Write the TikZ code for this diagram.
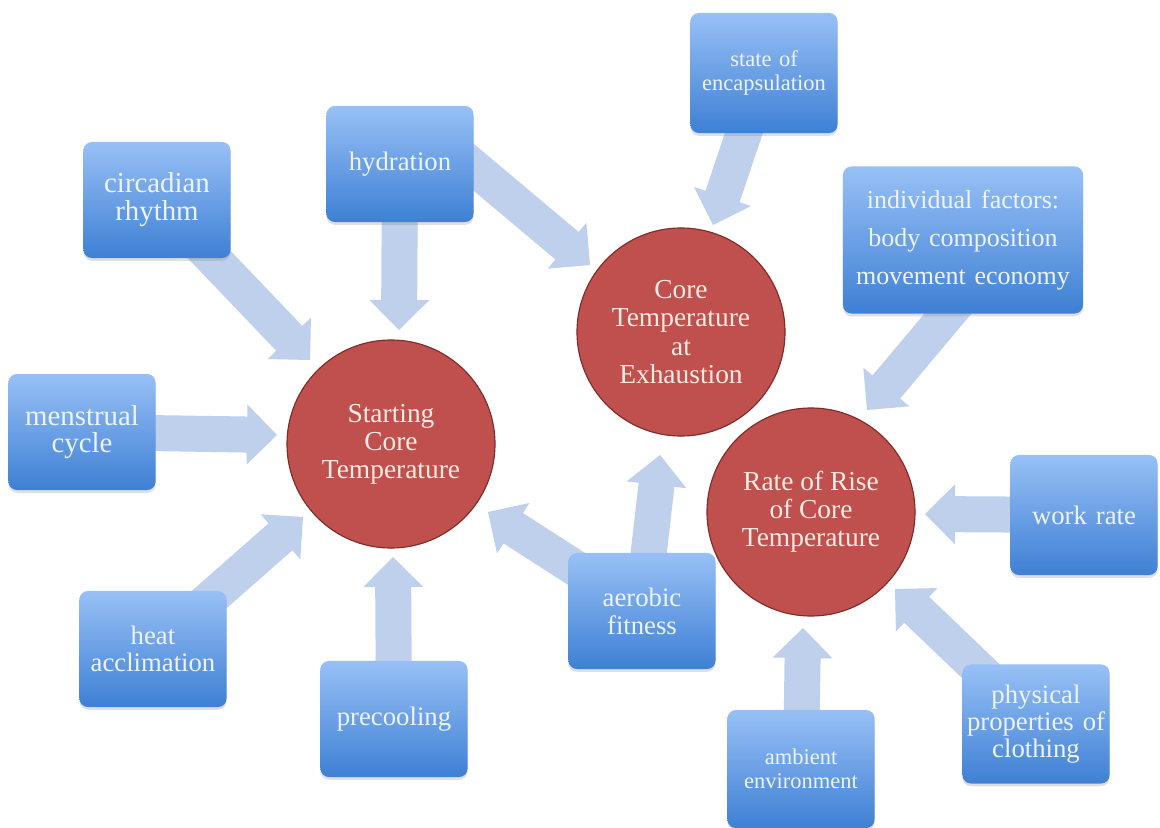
\documentclass[tikz,border=0pt]{standalone}
\usepackage{fontspec}
\setmainfont{Liberation Serif}
\usetikzlibrary{shapes,calc,shadows,backgrounds}
\definecolor{factortop}{RGB}{152,192,246}
\definecolor{factorbottom}{RGB}{62,128,212}
\definecolor{coretemp}{RGB}{192,80,77}
\definecolor{coreedge}{RGB}{125,42,40}
\definecolor{corefont}{RGB}{252,236,228}
\definecolor{factorfont}{RGB}{238,244,252}
\definecolor{linkblue}{RGB}{190,208,236}
\tikzset{
    % Define standard node styles
    factorbox/.style={
        rectangle, rounded corners=6pt, top color=factortop, bottom color=factorbottom,
        draw=none, minimum width=3.675cm, minimum height=2.9cm,
        text width=3.6cm, align=center, inner sep=0pt,
        text=factorfont, font=\fontsize{19}{19}\selectfont,
        drop shadow={shadow xshift=0pt, shadow yshift=-2pt, opacity=0.25}
    },
    corecircle/.style={
        circle, fill=coretemp, draw=coreedge, line width=0.8pt,
        minimum size=5.2cm, align=center, text=corefont,
        font=\fontsize{19.5}{20}\selectfont
    },
    link/.style={
        fill=linkblue
    }
}
% broad arrow from #1 to the tip #2
\newcommand{\influence}[2]{%
  \fill[link] let \p1 = ($(#2)!0.75cm!(#1)$) in
    ($(#1)!0.45cm!90:(#2)$) -- ($(\p1)!0.45cm!90:(#2)$) -- ($(\p1)!0.75cm!90:(#2)$) -- (#2)
    -- ($(\p1)!0.75cm!-90:(#2)$) -- ($(\p1)!0.45cm!-90:(#2)$) -- ($(#1)!0.45cm!-90:(#2)$) -- cycle;
}
\begin{document}
\begin{tikzpicture}[x=0.025cm, y=-0.025cm]
\useasboundingbox (0,0) rectangle (1160,828);

% outcomes
\node[corecircle] (start) at (391,444) {Starting\\Core\\Temperature};
\node[corecircle] (exh) at (681,332) {Core\\Temperature\\at\\Exhaustion};
\node[corecircle] (rate) at (811,512) {Rate of Rise\\of Core\\Temperature};

% factors
\node[factorbox, font=\fontsize{20.5}{20}\selectfont] (circ) at (157,200) {circadian\\rhythm};
\node[factorbox] (hydr) at (400,164) {hydration};
\node[factorbox, minimum height=3cm, font=\fontsize{16}{16.5}\selectfont] (encaps) at (764,73) {state of\\encapsulation};
\node[factorbox, minimum width=6cm, text width=5.9cm, minimum height=3.675cm,
      font=\fontsize{18.5}{27}\selectfont] (indiv) at (963,240) {individual factors:\\body composition\\movement economy};
\node[factorbox, font=\fontsize{20.5}{19.5}\selectfont] (mens) at (82,432) {menstrual\\cycle};
\node[factorbox, font=\fontsize{19}{19}\selectfont] (heat) at (153,649) {heat\\acclimation};
\node[factorbox] (precool) at (394,719) {precooling};
\node[factorbox, font=\fontsize{19}{20}\selectfont] (aero) at (642,611) {aerobic\\fitness};
\node[factorbox, minimum height=3cm] (work) at (1084,515) {work rate};
\node[factorbox, minimum height=2.95cm, font=\fontsize{16}{17}\selectfont] (ambient) at (801,769) {ambient\\environment};
\node[factorbox, minimum height=2.975cm, font=\fontsize{19}{19}\selectfont] (cloth) at (1036,724) {physical\\properties of\\clothing};

% arrow tips and offset tails
\coordinate (hydrOut) at ($(hydr)+(40,-25)$);
\coordinate (indivOut) at ($(indiv)+(30,20)$);
\coordinate (startNW) at (310,360);
\coordinate (startN) at (399,330);
\coordinate (exhNW) at (590,265);
\coordinate (exhN) at (713,225);
\coordinate (rateNE) at (867,410);
\coordinate (startW) at (277,435);
\coordinate (startSW) at (303,517);
\coordinate (startS) at (393,557);
\coordinate (startSE) at (488,512);
\coordinate (exhS) at (660,455);
\coordinate (rateE) at (925,514);
\coordinate (rateS) at (803,628);
\coordinate (rateSE) at (895,589);

\begin{pgfonlayer}{background}
\fill[white] (0,0) rectangle (1160,828);
\influence{circ.center}{startNW}
\influence{hydr.center}{startN}
\influence{hydrOut}{exhNW}
\influence{encaps.center}{exhN}
\influence{indivOut}{rateNE}
\influence{mens.center}{startW}
\influence{heat.center}{startSW}
\influence{precool.center}{startS}
\influence{aero.center}{startSE}
\influence{aero.center}{exhS}
\influence{work.center}{rateE}
\influence{ambient.center}{rateS}
\influence{cloth.center}{rateSE}
\end{pgfonlayer}

\end{tikzpicture}
\end{document}
